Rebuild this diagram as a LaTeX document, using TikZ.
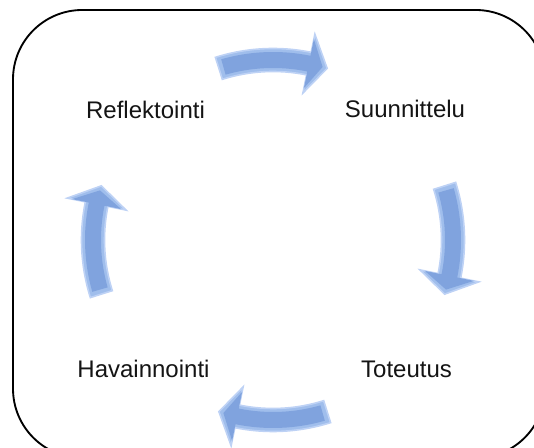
\documentclass[tikz,border=0pt]{standalone}
\usepackage{fontspec}
\usepackage{xcolor}
\usepackage{tikz}
\setmainfont{Liberation Sans}
\definecolor{cyclelight}{RGB}{160, 190, 236}
\definecolor{cyclemid}{RGB}{128, 163, 222}
\definecolor{cycleedge}{RGB}{190, 210, 245}
\definecolor{cycledark}{RGB}{20, 20, 20}

% bent block arrow around (hub): mid angle, shaft half width, head half width, inset, style
\newcommand{\cyclearrow}[5]{%
  \path[#5]
    ([shift={(hub)}]#1+17.5-#4:180+#2)
    arc[start angle=#1+17.5-#4, end angle=#1-11.5, radius=180+#2]
    -- ([shift={(hub)}]#1-11.5:180+#3)
    -- ([shift={(hub)}]#1-17.5+#4:180)
    -- ([shift={(hub)}]#1-11.5:180-#3)
    -- ([shift={(hub)}]#1-11.5:180-#2)
    arc[start angle=#1-11.5, end angle=#1+17.5-#4, radius=180-#2]
    -- cycle;}

\begin{document}
\begin{tikzpicture}[x=0.75pt, y=0.75pt]
    \useasboundingbox (0,0) rectangle (534,448);
    \clip (0,0) rectangle (534,448);

    % frame
    \draw[line width=1.4pt, rounded corners=52pt] (13,-10) rectangle (545,438);

    \coordinate (hub) at (273,208);

    % phase labels
    \node[anchor=base, text=cycledark, font=\fontsize{18}{21}\selectfont] (refl) at (145.5,329) {Reflektointi};
    \node[anchor=base, text=cycledark, font=\fontsize{18}{21}\selectfont] (suun) at (405,330) {Suunnittelu};
    \node[anchor=base, text=cycledark, font=\fontsize{18}{21}\selectfont] (tot) at (406.5,70) {Toteutus};
    \node[anchor=base, text=cycledark, font=\fontsize{18}{21}\selectfont] (hav) at (143.5,70) {Havainnointi};

    % top arrow
    \cyclearrow{90}{11.5}{30}{0}{fill=cyclelight, draw=cycleedge, line width=1.2pt}
    \cyclearrow{90}{8}{25}{1.5}{fill=cyclemid}
    % right arrow
    \cyclearrow{0}{11.5}{30}{0}{fill=cyclelight, draw=cycleedge, line width=1.2pt}
    \cyclearrow{0}{8}{25}{1.5}{fill=cyclemid}
    % bottom arrow
    \cyclearrow{-90}{11.5}{30}{0}{fill=cyclelight, draw=cycleedge, line width=1.2pt}
    \cyclearrow{-90}{8}{25}{1.5}{fill=cyclemid}
    % left arrow
    \cyclearrow{180}{11.5}{30}{0}{fill=cyclelight, draw=cycleedge, line width=1.2pt}
    \cyclearrow{180}{8}{25}{1.5}{fill=cyclemid}
\end{tikzpicture}
\end{document}
